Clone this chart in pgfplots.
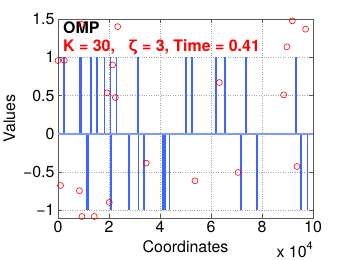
\documentclass[border=0pt]{standalone}
\usepackage{fontspec}
\setmainfont{TeX Gyre Heros}
\usepackage{pgfplots}
\pgfplotsset{compat=1.18}
\definecolor{stemblue}{rgb}{0.25,0.4,1}
\definecolor{baseblue}{rgb}{0.5,0.6,1}
\begin{document}
\begin{tikzpicture}
\path[use as bounding box] (-58bp,-42bp) rectangle (288bp,218bp);
\begin{axis}[
  at={(0,0)}, anchor=south west,
  scale only axis, width=255bp, height=199bp,
  xmin=0, xmax=100000, ymin=-1.1, ymax=1.5,
  xtick={0,20000,40000,60000,80000,100000},
  xticklabels={0,2,4,6,8,10},
  scaled x ticks=false,
  ytick={-1,-0.5,0,0.5,1,1.5},
  yticklabels={−1,−0.5,0,0.5,1,1.5},
  grid=major,
  major grid style={dotted, gray!70, line width=0.5bp},
  tick align=inside, major tick length=4bp,
  axis line style={black!65, line width=0.8bp},
  tick style={black!65, line width=0.6bp},
  ticklabel style={font=\fontsize{16}{18}\selectfont},
  xlabel={Coordinates}, ylabel={Values},
  every axis x label/.style={at={(axis description cs:0.5,0)}, anchor=base, yshift=-34bp, font=\fontsize{16}{18}\selectfont},
  every axis y label/.style={at={(axis description cs:-0.1686,0.5)}, rotate=90, anchor=base, font=\fontsize{16}{18}\selectfont},
  clip=false,
]
% positive stems
\addplot[ycomb, draw=stemblue, line width=1.5bp, mark=none] coordinates {
 (2353,1) (8431,1) (8980,1) (12941,1) (15216,1) (18314,1) (20667,1) (22863,1)
 (31294,1) (50196,1) (52549,1) (61961,1) (65569,1) (73725,1) (93412,1)
};
% negative stems
\addplot[ycomb, draw=stemblue, line width=1.5bp, mark=none] coordinates {
 (11373,-1) (12039,-1) (20784,-1) (27922,-1) (31490,-1) (33725,-1) (41176,-1)
 (41961,-1) (43725,-1) (71765,-1) (78118,-1) (95216,-1) (97922,-1)
};
% baseline
\addplot[baseblue, line width=1.5bp] coordinates {(0,0) (100000,0)};
% estimates
\addplot[only marks, mark=o, red, mark size=3bp, line width=0.6bp] coordinates {
 (0,0.957) (2500,0.96) (9300,1.43) (23400,1.40) (21400,0.90) (19300,0.535)
 (22500,0.474) (91900,1.475) (97100,1.367) (89800,1.136) (63300,0.67)
 (88500,0.509) (1000,-0.675) (8400,-0.744) (9400,-1.08) (14200,-1.08)
 (20100,-0.897) (34600,-0.383) (53700,-0.614) (70600,-0.505) (93700,-0.427)
};
\node[anchor=base west, inner sep=0, font=\bfseries\fontsize{16}{18}\selectfont] at (axis description cs:0.0196,0.9296) {OMP};
\node[anchor=base west, inner sep=0, text=red, font=\bfseries\fontsize{16}{18}\selectfont] at (axis description cs:0.0196,0.839) {K = 30,\ \ \ ζ = 3, Time = 0.41};
\node[anchor=base east, inner sep=0, yshift=-39.5bp, font=\fontsize{16}{18}\selectfont] at (axis description cs:1,0) {x 10\raisebox{8bp}{\fontsize{11}{12}\selectfont 4}};
\end{axis}
\end{tikzpicture}
\end{document}
